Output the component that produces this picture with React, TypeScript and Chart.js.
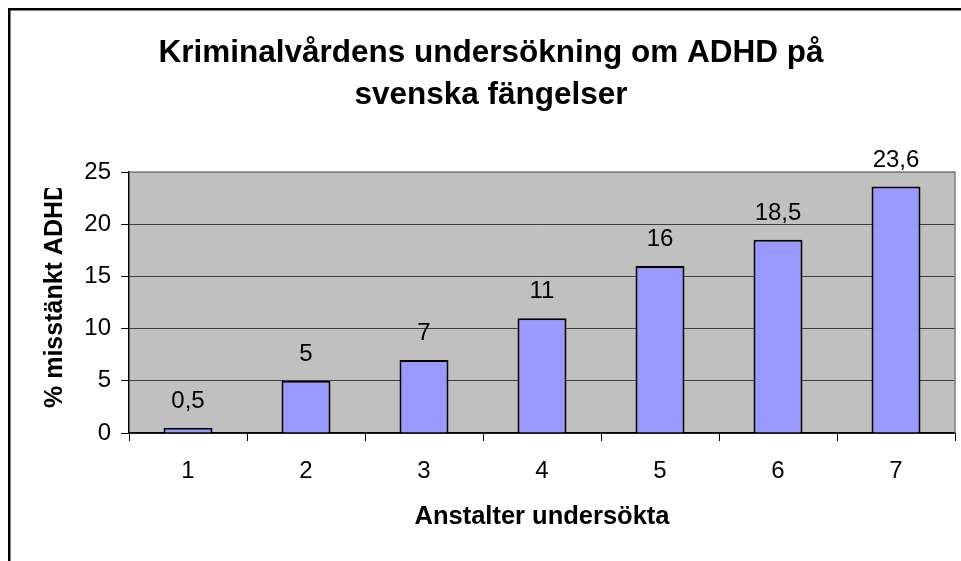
import React, { useEffect, useRef } from "react";
import { Chart, registerables } from "chart.js";

Chart.register(...registerables);

const categories = ["1", "2", "3", "4", "5", "6", "7"];
const values = [0.5, 5, 7, 11, 16, 18.5, 23.6];
const yMin = 0;
const yMax = 25;
const yStep = 5;
const titleLines = ["Kriminalvårdens undersökning om ADHD på", "svenska fängelser"];
const xTitle = "Anstalter undersökta";
const yTitle = "% misstänkt ADHD";

const FONT = '"Liberation Sans", Arial, sans-serif';

const fmt = (v: number) => String(v).replace(".", ",");

const decor = {
  id: "decor",
  beforeDraw(chart: any) {
    const { ctx, chartArea: a, width, height } = chart;
    ctx.save();
    ctx.fillStyle = "#ffffff";
    ctx.fillRect(0, 0, width, height);
    ctx.fillStyle = "#C0C0C0";
    ctx.fillRect(a.left, a.top, a.right - a.left, a.bottom - a.top);
    // outer chart border (left + top)
    ctx.fillStyle = "#000";
    ctx.fillRect(8, 8, width, 2.5);
    ctx.fillRect(8, 8, 2.5, height);
    // title
    ctx.fillStyle = "#000";
    ctx.textAlign = "center";
    ctx.textBaseline = "alphabetic";
    ctx.font = `bold 31.5px ${FONT}`;
    ctx.fillText(titleLines[0], 491, 62);
    ctx.fillText(titleLines[1], 491, 104);
    // x axis title
    ctx.font = `bold 25.5px ${FONT}`;
    ctx.fillText(xTitle, (a.left + a.right) / 2, 524);
    // y axis title
    ctx.save();
    ctx.beginPath();
    ctx.rect(0, 188, 200, 400);
    ctx.clip();
    ctx.translate(62, 408);
    ctx.rotate(-Math.PI / 2);
    ctx.textAlign = "left";
    ctx.font = `bold 25px ${FONT}`;
    ctx.fillText(yTitle, 0, 0);
    ctx.restore();
    ctx.restore();
  },
  beforeDatasetsDraw(chart: any) {
    const { ctx, chartArea: a } = chart;
    ctx.save();
    ctx.strokeStyle = "#808080";
    ctx.lineWidth = 1.5;
    ctx.beginPath();
    ctx.moveTo(a.left, a.top);
    ctx.lineTo(a.right, a.top);
    ctx.lineTo(a.right, a.bottom);
    ctx.stroke();
    ctx.restore();
  },
  afterDatasetsDraw(chart: any) {
    const { ctx } = chart;
    const meta = chart.getDatasetMeta(0);
    ctx.save();
    ctx.fillStyle = "#000";
    ctx.font = `24px ${FONT}`;
    ctx.textAlign = "center";
    ctx.textBaseline = "alphabetic";
    meta.data.forEach((bar: any, i: number) => {
      ctx.fillText(fmt(values[i]), bar.x, bar.y - 20);
    });
    ctx.restore();
  },
};

export default function App() {
  const ref = useRef<HTMLCanvasElement>(null);
  useEffect(() => {
    document.body.style.margin = "0";
    const canvas = ref.current!;
    const chart = new Chart(canvas, {
      type: "bar",
      data: {
        labels: categories,
        datasets: [
          {
            data: values,
            backgroundColor: "#9999FF",
            borderColor: "#000000",
            borderWidth: 2,
            barPercentage: 0.415,
            categoryPercentage: 1,
          },
        ],
      },
      options: {
        responsive: false,
        animation: false,
        devicePixelRatio: 1,
        layout: { padding: { left: 0, right: 6, top: 172, bottom: 0 } },
        plugins: {
          legend: { display: false },
          tooltip: { enabled: false },
          title: { display: false },
        },
        scales: {
          x: {
            offset: true,
            grid: {
              offset: true,
              drawOnChartArea: false,
              drawTicks: true,
              tickLength: 8,
              tickColor: "#000",
              lineWidth: 1,
            },
            border: { color: "#000", width: 1.5 },
            ticks: {
              color: "#000",
              font: { family: FONT, size: 24 },
              padding: 16,
              maxRotation: 0,
            },
            afterFit(scale: any) {
              scale.height = 128;
            },
          },
          y: {
            min: yMin,
            max: yMax,
            ticks: {
              stepSize: yStep,
              color: "#000",
              font: { family: FONT, size: 24 },
              padding: 10,
            },
            grid: {
              color: (c: any) => (c.tick && c.tick.value === yMax ? "#808080" : "#404040"),
              lineWidth: 1,
              tickLength: 8,
              tickColor: "#000",
            },
            border: { color: "#000", width: 1.5 },
            afterFit(scale: any) {
              scale.width = 129;
            },
          },
        },
      },
      plugins: [decor],
    });
    return () => chart.destroy();
  }, []);
  return (
    <canvas
      ref={ref}
      width={961}
      height={561}
      style={{ display: "block", width: 961, height: 561 }}
    />
  );
}
